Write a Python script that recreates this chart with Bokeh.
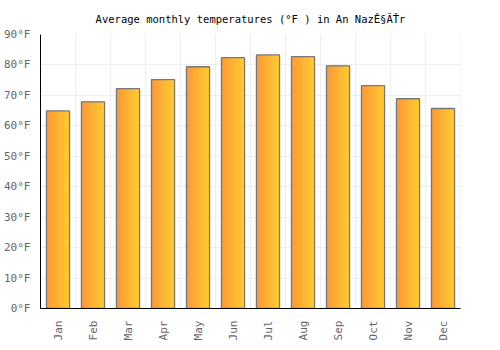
from bokeh.plotting import figure
from bokeh.models import ColumnDataSource, FactorRange, Range1d, Span, PrintfTickFormatter, FixedTicker
from bokeh.transform import dodge
from bokeh.embed import file_html
from bokeh.resources import INLINE

months = ["Jan", "Feb", "Mar", "Apr", "May", "Jun", "Jul", "Aug", "Sep", "Oct", "Nov", "Dec"]
temps_f = [64.9, 67.9, 72.2, 75.2, 79.4, 82.4, 83.3, 82.7, 79.7, 73.2, 68.9, 65.7]
y_ticks = [0, 10, 20, 30, 40, 50, 60, 70, 80, 90]
title_text = "Average monthly temperatures (°F ) in An NazĚ§ĂŤr"

FONT = "DejaVu Sans Mono"

src = ColumnDataSource(dict(month=months, temp=temps_f))

p = figure(x_range=FactorRange(*months), y_range=Range1d(0, 90),
           width=500, height=350, output_backend="svg", toolbar_location=None,
           title=title_text,
           min_border_left=40, min_border_right=40, min_border_top=34, min_border_bottom=42)

p.title.align = "center"
p.title.text_font = FONT
p.title.text_font_size = "10.5px"
p.title.text_font_style = "normal"
p.title.text_color = "#000000"
p.title.offset = 0
p.title.standoff = 19

p.outline_line_color = None
p.background_fill_color = "white"
p.border_fill_color = "white"

# gradient bars as thin vertical slices
bar_w = 0.66
n = 16
c0 = (255, 153, 51)
c1 = (255, 204, 51)
for i in range(n):
    t = i / (n - 1)
    col = "#%02x%02x%02x" % tuple(int(round(a + (b - a) * t)) for a, b in zip(c0, c1))
    sw = bar_w / n
    left = -bar_w / 2 + i * sw
    right = min(left + 2.5 * sw, bar_w / 2)
    off = (left + right) / 2
    p.vbar(x=dodge("month", off, range=p.x_range), top="temp", bottom=0,
           width=right - left, source=src, fill_color=col, line_color=None)

p.vbar(x="month", top="temp", bottom=0, width=bar_w, source=src,
       fill_alpha=0, line_color="#777777", line_width=1.3)

# grid
p.xgrid.grid_line_color = None
p.ygrid.grid_line_color = "#eeeeee"
p.ygrid.ticker = FixedTicker(ticks=y_ticks)
for i in range(len(months) + 1):
    p.add_layout(Span(location=i, dimension="height", line_color="#eeeeee", line_width=1, level="underlay"))

# axes
p.yaxis.ticker = FixedTicker(ticks=y_ticks)
p.yaxis.formatter = PrintfTickFormatter(format="%d°F")
for ax in (p.xaxis[0], p.yaxis[0]):
    ax.axis_line_color = "#000000"
    ax.axis_line_width = 1
    ax.major_tick_line_color = None
    ax.minor_tick_line_color = None
    ax.major_label_text_font = FONT
    ax.major_label_text_font_size = "11px"
    ax.major_label_text_color = "#666666"
p.xaxis.major_label_orientation = 3.14159265 / 2
p.xaxis.major_label_standoff = 6
p.yaxis.major_label_standoff = 4

open("out.html", "w").write(file_html(p, INLINE))
